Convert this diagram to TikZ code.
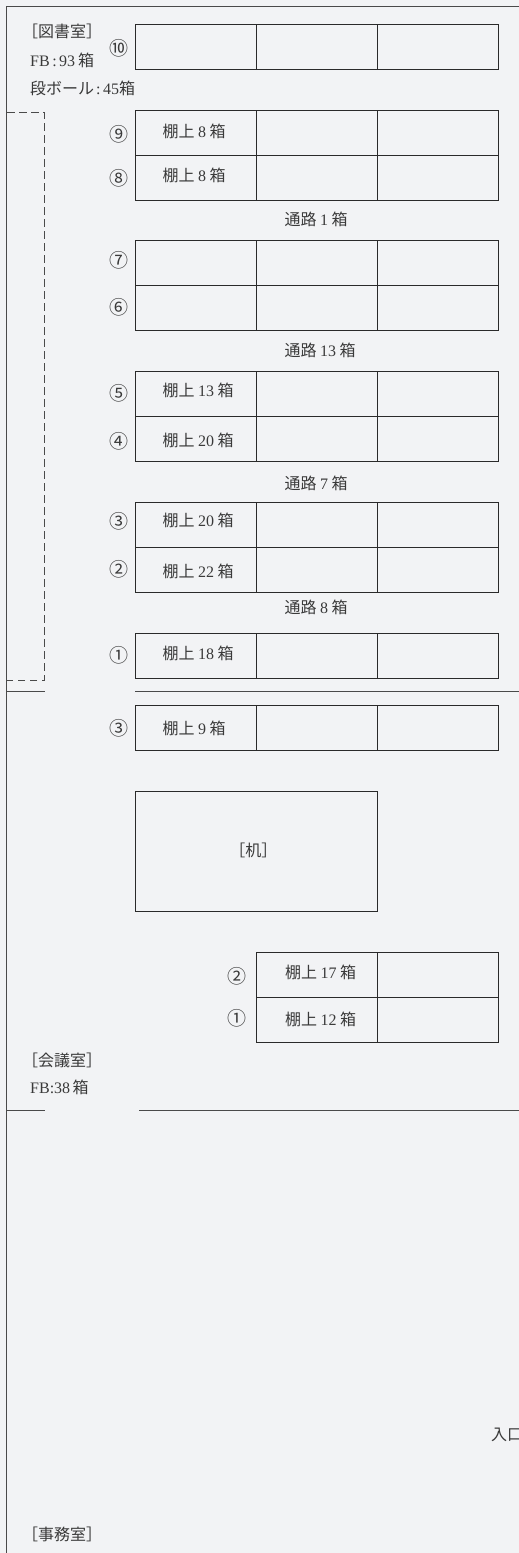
\documentclass[tikz,border=0pt]{standalone}
\usepackage{fontspec}
\setmainfont{Liberation Serif}
\newfontfamily\cjk{Noto Sans CJK JP}
\definecolor{pagebg}{HTML}{F2F3F5}
\definecolor{ink}{HTML}{2A2A2A}
\definecolor{txt}{HTML}{3A3A3A}
\newcommand{\J}[1]{{\cjk\fontsize{16}{18}\selectfont #1}}
\newcommand{\Cn}[1]{{\cjk\fontsize{19}{20}\selectfont #1}}
\newcommand{\Lt}[1]{{\fontsize{16}{18}\selectfont #1}}
\newcommand{\shelf}[1]{\J{棚上}\kern3.5pt\Lt{#1}\kern3.5pt\J{箱}}
\newcommand{\aisle}[1]{\J{通路}\kern3.5pt\Lt{#1}\kern3.5pt\J{箱}}
\tikzset{
  cellbox/.style={draw=ink,line width=0.85pt,anchor=north west,inner sep=0pt,outer sep=0pt,minimum height=45pt,minimum width=121pt},
  lab/.style={anchor=west,inner sep=0pt,text=txt},
  mid/.style={anchor=center,inner sep=0pt,text=txt},
  wall/.style={draw=ink!85,line width=1pt},
  dashline/.style={draw=ink!85,line width=0.8pt,dash pattern=on 7.5pt off 4.5pt}
}
\begin{document}
\begin{tikzpicture}[x=1pt,y=-1pt]
\fill[pagebg] (0,0) rectangle (519,1553);
\useasboundingbox (0,0) rectangle (519,1553);
% walls
\coordinate (wallB) at (6.7,1553);
\coordinate (wallTL) at (6.7,6.7);
\coordinate (wallTR) at (519,6.7);
\draw[wall] (wallB) -- (wallTL) -- (wallTR);
\coordinate (a1) at (6.7,691.7); \coordinate (a2) at (44.5,691.7);
\coordinate (a3) at (135.3,691.7); \coordinate (a4) at (519,691.7);
\draw[wall] (a1) -- (a2) (a3) -- (a4);
\coordinate (b1) at (6.7,1110.3); \coordinate (b2) at (44.5,1110.3);
\coordinate (b3) at (139,1110.3); \coordinate (b4) at (519,1110.3);
\draw[wall] (b1) -- (b2) (b3) -- (b4);
% dashed area
\coordinate (d1) at (7,112.7); \coordinate (d2) at (44.4,112.7);
\coordinate (d3) at (44.4,680); \coordinate (d4) at (7,680);
\draw[dashline] (d1) -- (d2) -- (d3) -- (d4);
% three-column rows: name / top / cell text / text y / number / number y
\foreach \n/\y/\t/\ty/\num/\ny in {
  r10/24.5//47/⑩/48,
  r9/110/\shelf{8}/131/⑨/134,
  r8/155/\shelf{8}/175/⑧/178,
  r7/240.7//263/⑦/260,
  r6/285.7//308/⑥/307.7,
  r5/371.7/\shelf{13}/390.7/⑤/393,
  r4/416.7/\shelf{20}/440.7/④/441,
  r3/502.3/\shelf{20}/520.7/③/521.7,
  r2/547.5/\shelf{22}/571.7/②/569,
  r1/633.3/\shelf{18}/653/①/655,
  s3/705.7/\shelf{9}/728/③/728}{
  \node[cellbox] (\n a) at (135.4,\y) {};
  \node[cellbox] (\n b) at (256.4,\y) {};
  \node[cellbox,minimum width=120.6pt] (\n c) at (377.4,\y) {};
  \node[lab] (\n t) at (162.5,\ty) {\t};
  \node[mid] (\n n) at (118.7,\ny) {\Cn{\num}};
}
% desk
\node[cellbox,minimum width=242pt,minimum height=120.8pt] (desk) at (135.4,791) {};
\node[mid] (deskt) at (253.3,850.7) {\J{［机］}};
% two-column rows
\foreach \n/\y/\t/\ty/\num/\ny in {
  t2/952.3/\shelf{17}/972.7/②/976.7,
  t1/997.3/\shelf{12}/1019.3/①/1018.3}{
  \node[cellbox] (\n b) at (256.4,\y) {};
  \node[cellbox,minimum width=120.6pt] (\n c) at (377.4,\y) {};
  \node[lab] (\n t) at (285,\ty) {\t};
  \node[mid] (\n n) at (236.7,\ny) {\Cn{\num}};
}
% aisle labels
\node[lab] (p1) at (284.5,219) {\aisle{1}};
\node[lab] (p2) at (284.5,350.5) {\aisle{13}};
\node[lab] (p3) at (284.5,483.3) {\aisle{7}};
\node[lab] (p4) at (284.5,607.7) {\aisle{8}};
% room labels
\node[lab] (lib) at (22,31) {\J{［図書室］}};
\node[lab] (fb1) at (30,60) {\Lt{FB\kern2.5pt:\kern2.5pt93}\kern3pt\J{箱}};
\node[lab] (card) at (30,88.3) {\J{段ボール}\Lt{\kern2pt:\kern2.5pt45}\J{箱}};
\node[lab] (conf) at (22,1060) {\J{［会議室］}};
\node[lab] (fb2) at (30,1087.7) {\Lt{FB:38}\kern2.5pt\J{箱}};
\node[lab] (off) at (22,1534) {\J{［事務室］}};
\node[lab] (door) at (491,1435) {\J{入口}};
\end{tikzpicture}
\end{document}
